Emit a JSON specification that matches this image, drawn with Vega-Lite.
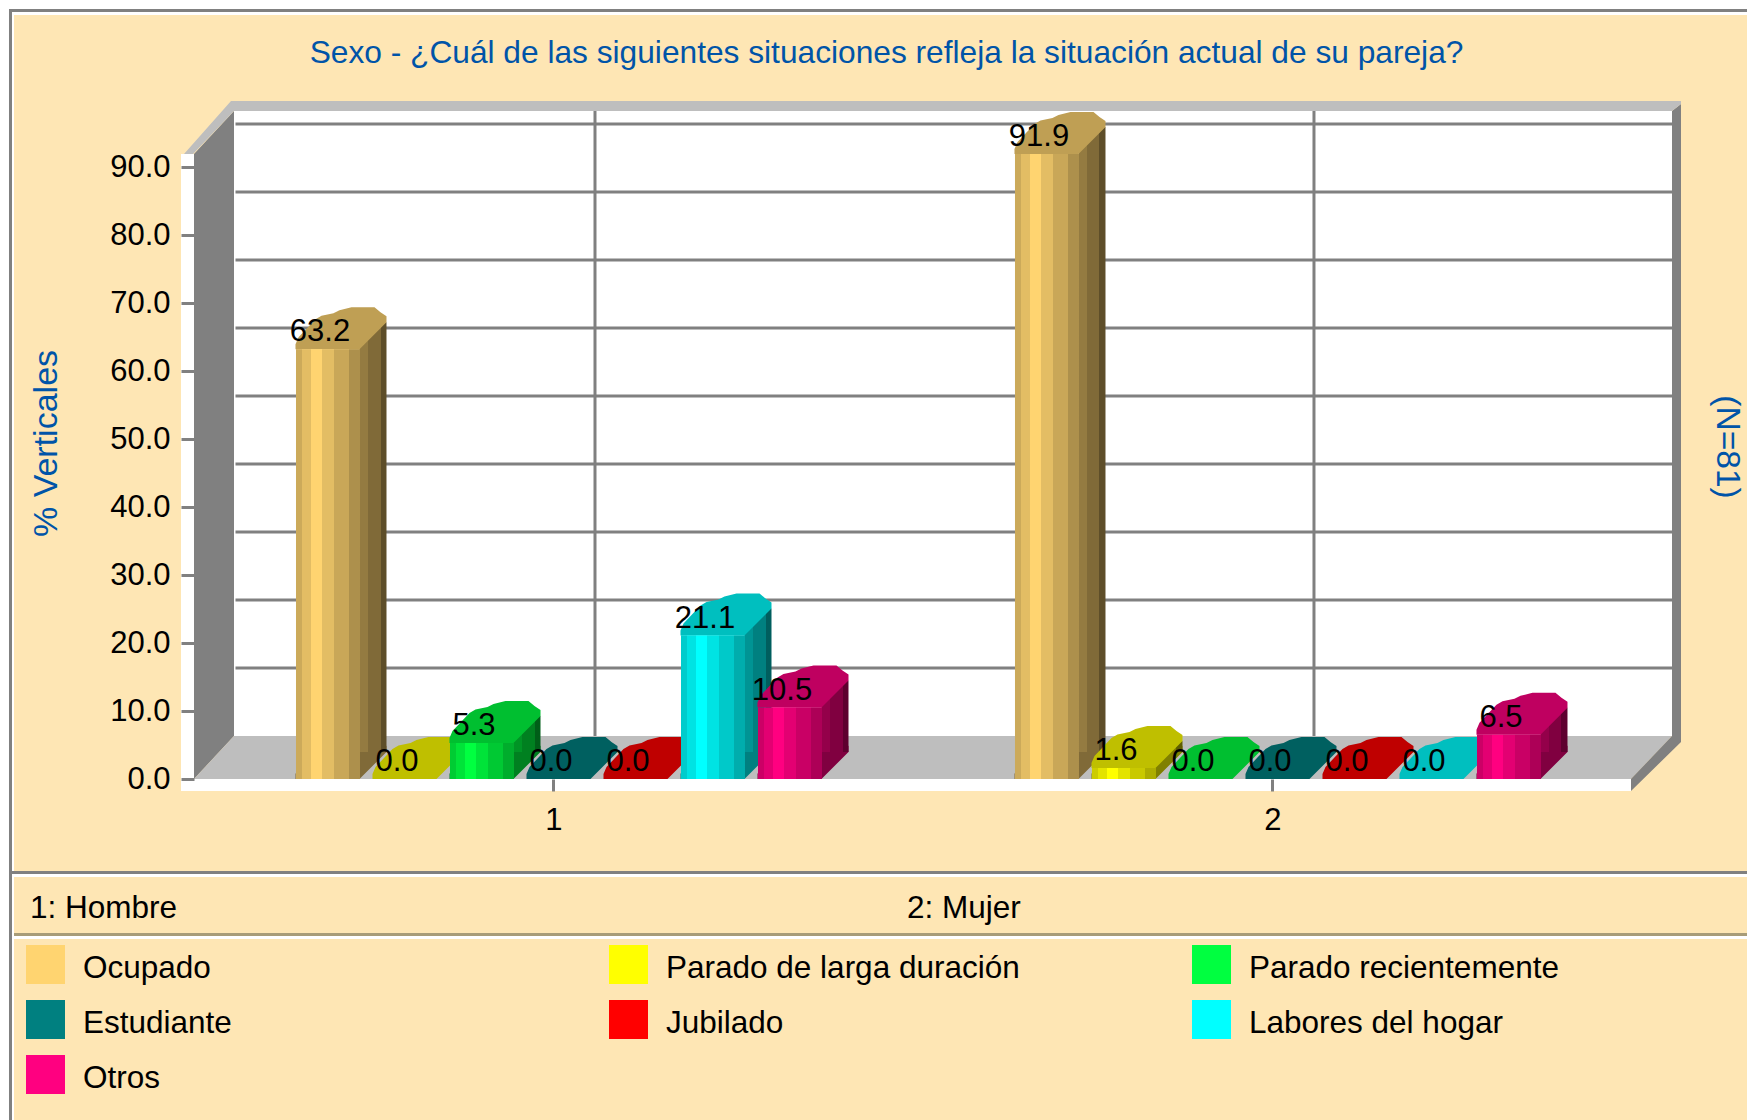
{"$schema":"https://vega.github.io/schema/vega-lite/v6.json","width":1747,"height":1120,"padding":0,"autosize":{"type":"none"},"background":"white","config":{"view":{"stroke":null},"font":"Liberation Sans"},
"title":{"text":"Sexo - ¿Cuál de las siguientes situaciones refleja la situación actual de su pareja?","anchor":"middle","frame":"group","offset":-66,"dx":13,"dy":29,"baseline":"alphabetic","font":"Liberation Sans","fontSize":31.7,"fontWeight":"normal","color":"#0054A8"},
"datasets":{"d":[
{"sexo":"1","serie":"Ocupado","v":63.2},{"sexo":"1","serie":"Parado de larga duración","v":0},{"sexo":"1","serie":"Parado recientemente","v":5.3},{"sexo":"1","serie":"Estudiante","v":0},{"sexo":"1","serie":"Jubilado","v":0},{"sexo":"1","serie":"Labores del hogar","v":21.1},{"sexo":"1","serie":"Otros","v":10.5},
{"sexo":"2","serie":"Ocupado","v":91.9},{"sexo":"2","serie":"Parado de larga duración","v":1.6},{"sexo":"2","serie":"Parado recientemente","v":0},{"sexo":"2","serie":"Estudiante","v":0},{"sexo":"2","serie":"Jubilado","v":0},{"sexo":"2","serie":"Labores del hogar","v":0},{"sexo":"2","serie":"Otros","v":6.5}],
"grid":[{"t":10},{"t":20},{"t":30},{"t":40},{"t":50},{"t":60},{"t":70},{"t":80},{"t":90}],
"g":[{"sexo":"1"},{"sexo":"2"}]},
"resolve":{"scale":{"x":"independent"},"axis":{"x":"independent"}},
"layer":[
{"layer":[
{"data":{"values":[{}]},"mark":{"type":"rect","color":"#808080"},"encoding":{
"x":{"datum":0.242,"type":"quantitative","scale":{"domain":[0.22949,2.65925],"nice":false,"zero":false},"axis":null},
"x2":{"datum":2.65925},
"y":{"datum":113.235,"type":"quantitative","scale":{"domain":[-50.147,114.559],"nice":false,"zero":false},"axis":{"orient":"left","offset":-194,"values":[0,10,20,30,40,50,60,70,80,90],"format":".1f","title":"% Verticales","titleX":-148,"titleY":443,"titleAngle":270,"titleAlign":"center","titleBaseline":"middle","titleFontSize":34,"titleFontWeight":"normal","titleFont":"Liberation Sans","titleColor":"#0054A8","grid":false,"domain":false,"zindex":1,"tickSize":13,"tickWidth":3,"tickColor":"#808080","labelFontSize":31,"labelFont":"Liberation Sans","labelColor":"#000000","labelPadding":11}},
"y2":{"datum":-50.147}}},
{"data":{"values":[{}]},"mark":{"type":"rect","color":"#ffffff"},"encoding":{"x":{"datum":0.24618,"type":"quantitative","axis":null},"x2":{"datum":2.65925},"y":{"datum":112.794,"type":"quantitative"},"y2":{"datum":-50.147}}},
{"data":{"values":[{}]},"mark":{"type":"rect","color":"#FEE6B4"},"encoding":{"x":{"datum":0.24896,"type":"quantitative","axis":null},"x2":{"datum":2.65925},"y":{"datum":112.353,"type":"quantitative"},"y2":{"datum":-50.147}}},
{"data":{"values":[{}]},"mark":{"type":"rect","color":"#ffffff"},"encoding":{"x":{"datum":0.24618,"type":"quantitative","axis":null},"x2":{"datum":2.65925},"y":{"datum":-13.529,"type":"quantitative"},"y2":{"datum":-14.412}}},
{"data":{"values":[{}]},"mark":{"type":"rect","color":"#808080"},"encoding":{"x":{"datum":0.24618,"type":"quantitative","axis":null},"x2":{"datum":2.65925},"y":{"datum":-13.529,"type":"quantitative"},"y2":{"datum":-13.971}}},
{"data":{"values":[{}]},"mark":{"type":"rect","color":"#ffffff"},"encoding":{"x":{"datum":0.24896,"type":"quantitative","axis":null},"x2":{"datum":2.65925},"y":{"datum":-22.647,"type":"quantitative"},"y2":{"datum":-23.529}}},
{"data":{"values":[{}]},"mark":{"type":"rect","color":"#A89C78"},"encoding":{"x":{"datum":0.24896,"type":"quantitative","axis":null},"x2":{"datum":2.65925},"y":{"datum":-22.647,"type":"quantitative"},"y2":{"datum":-23.088}}},
{"data":{"values":[{}]},"mark":{"type":"point","filled":true,"opacity":1,"size":4,"strokeWidth":0,"color":"#ffffff","shape":"M40,-668L1478,-668L1478,-43L40,-43Z"},"encoding":{"x":{"datum":0.49931,"type":"quantitative","axis":null},"y":{"datum":0,"type":"quantitative"}}},
{"data":{"values":[{}]},"mark":{"type":"point","filled":true,"opacity":1,"size":4,"strokeWidth":0,"color":"#ffffff","shape":"M-13,-625L0,-625L0,0L1437,0L1437,12L-13,12Z"},"encoding":{"x":{"datum":0.49931,"type":"quantitative","axis":null},"y":{"datum":0,"type":"quantitative"}}},
{"data":{"values":[{}]},"mark":{"type":"point","filled":true,"opacity":1,"size":4,"strokeWidth":0,"color":"#808080","shape":"M0,0L40,-43L40,-668L0,-625Z"},"encoding":{"x":{"datum":0.49931,"type":"quantitative","axis":null},"y":{"datum":0,"type":"quantitative"}}},
{"data":{"values":[{}]},"mark":{"type":"point","filled":true,"opacity":1,"size":4,"strokeWidth":0,"color":"#BEBEBE","shape":"M0,0L40,-43L1478,-43L1437,0Z"},"encoding":{"x":{"datum":0.49931,"type":"quantitative","axis":null},"y":{"datum":0,"type":"quantitative"}}},
{"data":{"values":[{}]},"mark":{"type":"point","filled":true,"opacity":1,"size":4,"strokeWidth":0,"color":"#808080","shape":"M1478,-668L1487,-675L1487,-37L1437,12L1437,0L1478,-43Z"},"encoding":{"x":{"datum":0.49931,"type":"quantitative","axis":null},"y":{"datum":0,"type":"quantitative"}}},
{"data":{"values":[{}]},"mark":{"type":"point","filled":true,"opacity":1,"size":4,"strokeWidth":0,"color":"#BEBEBE","shape":"M-10,-625L-1,-625L40,-668L1478,-668L1487,-675L1487,-678L37,-678Z"},"encoding":{"x":{"datum":0.49931,"type":"quantitative","axis":null},"y":{"datum":0,"type":"quantitative"}}},
{"data":{"name":"grid"},"mark":{"type":"rule","color":"#808080","strokeWidth":3,"yOffset":-43},"encoding":{"x":{"datum":0.55702,"type":"quantitative","axis":null},"x2":{"datum":2.55494},"y":{"field":"t","type":"quantitative"}}},
{"data":{"values":[{}]},"mark":{"type":"text","font":"Liberation Sans","fontSize":31.5,"color":"#000000","align":"left","baseline":"alphabetic","text":"1: Hombre"},"encoding":{"x":{"datum":0.27121,"type":"quantitative","axis":null},"y":{"datum":-20.44,"type":"quantitative"}}},
{"data":{"values":[{}]},"mark":{"type":"text","font":"Liberation Sans","fontSize":31.5,"color":"#000000","align":"left","baseline":"alphabetic","text":"2: Mujer"},"encoding":{"x":{"datum":1.49096,"type":"quantitative","axis":null},"y":{"datum":-20.44,"type":"quantitative"}}},
{"data":{"values":[{}]},"mark":{"type":"text","font":"Liberation Sans","fontSize":33.5,"color":"#0054A8","align":"center","baseline":"middle","angle":90,"text":"(N=81)"},"encoding":{"x":{"datum":2.63143,"type":"quantitative","axis":null},"y":{"datum":48.82,"type":"quantitative"}}}
]},
{"resolve":{"scale":{"xOffset":"independent"}},"layer":[
{"data":{"name":"g"},"mark":{"type":"rule","color":"#808080","strokeWidth":3,"xOffset":41},"encoding":{"x":{"field":"sexo","type":"nominal","scale":{"type":"band","domain":["1","2"],"paddingInner":0,"paddingOuter":0.2149,"align":0.6294},"axis":{"orient":"bottom","offset":-341,"title":null,"labelAngle":0,"grid":false,"domain":false,"zindex":1,"tickSize":12,"tickWidth":3,"tickColor":"#808080","labelFontSize":31,"labelFont":"Liberation Sans","labelColor":"#000000","labelPadding":14}},"y":{"datum":6.3235,"type":"quantitative"},"y2":{"datum":98.235}}},
{"data":{"name":"d"},"mark":{"type":"bar","width":64},"encoding":{"x":{"field":"sexo","type":"nominal"},"xOffset":{"field":"serie","type":"nominal","scale":{"type":"band","domain":["Ocupado","Parado de larga duración","Parado recientemente","Estudiante","Jubilado","Labores del hogar","Otros"],"paddingInner":0.1688,"paddingOuter":0,"range":[101.5,627.5]}},"y":{"field":"v","type":"quantitative"},
"color":{"field":"serie","type":"nominal","scale":{"domain":["Ocupado","Parado de larga duración","Parado recientemente","Estudiante","Jubilado","Labores del hogar","Otros"],"range":["#FFD470","#FFFF00","#00FF40","#008080","#FF0000","#00FFFF","#FF0080"]},"legend":{"orient":"none","legendX":26,"legendY":945,"title":null,"direction":"horizontal","columns":3,"gridAlign":"all","columnPadding":172,"rowPadding":16,"symbolType":"square","symbolSize":1521,"symbolStrokeWidth":0,"labelOffset":18,"labelFontSize":31.5,"labelFont":"Liberation Sans","labelColor":"#000000","labelLimit":600,"padding":0,"encode":{"labels":{"update":{"dy":{"value":4}}}}}}}},
{"data":{"name":"d"},"transform":[{"filter":"datum.v>0"}],"mark":{"type":"point","filled":true,"opacity":1,"size":4,"strokeWidth":0,"shape":"M-32.5,0L-32.5,-5L-29.5,-12L-12.5,-30L-6.5,-33.5L5.5,-36L11.5,-39L23.5,-42L46.5,-42L52.5,-37L58.5,-33L58.5,-27L31.5,0Z"},"encoding":{"x":{"field":"sexo","type":"nominal"},"xOffset":{"field":"serie","type":"nominal","scale":{"type":"band","domain":["Ocupado","Parado de larga duración","Parado recientemente","Estudiante","Jubilado","Labores del hogar","Otros"],"paddingInner":0.1688,"paddingOuter":0,"range":[101.5,627.5]}},"y":{"datum":0,"type":"quantitative"},
"color":{"condition":[{"test":"datum.serie==='Ocupado'","value":"#806A38"},{"test":"datum.serie==='Parado de larga duración'","value":"#808000"},{"test":"datum.serie==='Parado recientemente'","value":"#008020"},{"test":"datum.serie==='Labores del hogar'","value":"#008080"}],"value":"#800040"}}},
{"data":{"name":"d"},"transform":[{"filter":"datum.v>0"}],"mark":{"type":"bar","width":27,"yOffset":-27,"y2Offset":-27},"encoding":{"x":{"field":"sexo","type":"nominal"},"xOffset":{"field":"serie","type":"nominal","scale":{"type":"band","domain":["Ocupado","Parado de larga duración","Parado recientemente","Estudiante","Jubilado","Labores del hogar","Otros"],"paddingInner":0.1688,"paddingOuter":0,"range":[146.5,672.5]}},"y":{"field":"v","type":"quantitative"},"y2":{"datum":0},
"color":{"condition":[
{"test":"datum.serie==='Ocupado'","value":{"gradient":"linear","x1":0,"x2":1,"y1":0,"y2":0,"stops":[{"offset":0,"color":"#947B41"},{"offset":0.333,"color":"#947B41"},{"offset":0.333,"color":"#806A38"},{"offset":0.778,"color":"#806A38"},{"offset":0.778,"color":"#5E4E29"},{"offset":1,"color":"#5E4E29"}]}},
{"test":"datum.serie==='Parado de larga duración'","value":{"gradient":"linear","x1":0,"x2":1,"y1":0,"y2":0,"stops":[{"offset":0,"color":"#949400"},{"offset":0.333,"color":"#949400"},{"offset":0.333,"color":"#808000"},{"offset":0.778,"color":"#808000"},{"offset":0.778,"color":"#5E5E00"},{"offset":1,"color":"#5E5E00"}]}},
{"test":"datum.serie==='Parado recientemente'","value":{"gradient":"linear","x1":0,"x2":1,"y1":0,"y2":0,"stops":[{"offset":0,"color":"#009425"},{"offset":0.333,"color":"#009425"},{"offset":0.333,"color":"#008020"},{"offset":0.778,"color":"#008020"},{"offset":0.778,"color":"#005E18"},{"offset":1,"color":"#005E18"}]}},
{"test":"datum.serie==='Labores del hogar'","value":{"gradient":"linear","x1":0,"x2":1,"y1":0,"y2":0,"stops":[{"offset":0,"color":"#009494"},{"offset":0.333,"color":"#009494"},{"offset":0.333,"color":"#008080"},{"offset":0.778,"color":"#008080"},{"offset":0.778,"color":"#005E5E"},{"offset":1,"color":"#005E5E"}]}}],
"value":{"gradient":"linear","x1":0,"x2":1,"y1":0,"y2":0,"stops":[{"offset":0,"color":"#94004A"},{"offset":0.333,"color":"#94004A"},{"offset":0.333,"color":"#800040"},{"offset":0.778,"color":"#800040"},{"offset":0.778,"color":"#5E002F"},{"offset":1,"color":"#5E002F"}]}}}},
{"data":{"name":"d"},"mark":{"type":"point","filled":true,"opacity":1,"size":4,"strokeWidth":0,"shape":"M-32.5,0L-32.5,-5L-29.5,-12L-12.5,-30L-6.5,-33.5L5.5,-36L11.5,-39L23.5,-42L46.5,-42L52.5,-37L58.5,-33L58.5,-27L31.5,0Z"},"encoding":{"x":{"field":"sexo","type":"nominal"},"xOffset":{"field":"serie","type":"nominal","scale":{"type":"band","domain":["Ocupado","Parado de larga duración","Parado recientemente","Estudiante","Jubilado","Labores del hogar","Otros"],"paddingInner":0.1688,"paddingOuter":0,"range":[101.5,627.5]}},"y":{"field":"v","type":"quantitative"},
"color":{"condition":[{"test":"datum.serie==='Ocupado'","value":"#BF9F54"},{"test":"datum.serie==='Parado de larga duración'","value":"#BFBF00"},{"test":"datum.serie==='Parado recientemente'","value":"#00BF30"},{"test":"datum.serie==='Estudiante'","value":"#006060"},{"test":"datum.serie==='Jubilado'","value":"#BF0000"},{"test":"datum.serie==='Labores del hogar'","value":"#00BFBF"}],"value":"#BF0060"}}},
{"data":{"name":"d"},"transform":[{"filter":"datum.v>0"}],"mark":{"type":"bar","width":64},"encoding":{"x":{"field":"sexo","type":"nominal"},"xOffset":{"field":"serie","type":"nominal","scale":{"type":"band","domain":["Ocupado","Parado de larga duración","Parado recientemente","Estudiante","Jubilado","Labores del hogar","Otros"],"paddingInner":0.1688,"paddingOuter":0,"range":[101.5,627.5]}},"y":{"field":"v","type":"quantitative"},
"fill":{"condition":[
{"test":"datum.serie==='Ocupado'","value":{"gradient":"linear","x1":0,"x2":1,"y1":0,"y2":0,"stops":[{"offset":0,"color":"#CCAA5A"},{"offset":0.094,"color":"#CCAA5A"},{"offset":0.094,"color":"#E3BD64"},{"offset":0.234,"color":"#E3BD64"},{"offset":0.234,"color":"#FFD470"},{"offset":0.406,"color":"#FFD470"},{"offset":0.406,"color":"#E3BD64"},{"offset":0.594,"color":"#E3BD64"},{"offset":0.594,"color":"#C9A758"},{"offset":0.828,"color":"#C9A758"},{"offset":0.828,"color":"#AD904C"},{"offset":1,"color":"#AD904C"}]}},
{"test":"datum.serie==='Parado de larga duración'","value":{"gradient":"linear","x1":0,"x2":1,"y1":0,"y2":0,"stops":[{"offset":0,"color":"#CCCC00"},{"offset":0.094,"color":"#CCCC00"},{"offset":0.094,"color":"#E3E300"},{"offset":0.234,"color":"#E3E300"},{"offset":0.234,"color":"#FFFF00"},{"offset":0.406,"color":"#FFFF00"},{"offset":0.406,"color":"#E3E300"},{"offset":0.594,"color":"#E3E300"},{"offset":0.594,"color":"#C9C900"},{"offset":0.828,"color":"#C9C900"},{"offset":0.828,"color":"#ADAD00"},{"offset":1,"color":"#ADAD00"}]}},
{"test":"datum.serie==='Parado recientemente'","value":{"gradient":"linear","x1":0,"x2":1,"y1":0,"y2":0,"stops":[{"offset":0,"color":"#00CC33"},{"offset":0.094,"color":"#00CC33"},{"offset":0.094,"color":"#00E339"},{"offset":0.234,"color":"#00E339"},{"offset":0.234,"color":"#00FF40"},{"offset":0.406,"color":"#00FF40"},{"offset":0.406,"color":"#00E339"},{"offset":0.594,"color":"#00E339"},{"offset":0.594,"color":"#00C933"},{"offset":0.828,"color":"#00C933"},{"offset":0.828,"color":"#00AD2C"},{"offset":1,"color":"#00AD2C"}]}},
{"test":"datum.serie==='Labores del hogar'","value":{"gradient":"linear","x1":0,"x2":1,"y1":0,"y2":0,"stops":[{"offset":0,"color":"#00CCCC"},{"offset":0.094,"color":"#00CCCC"},{"offset":0.094,"color":"#00E3E3"},{"offset":0.234,"color":"#00E3E3"},{"offset":0.234,"color":"#00FFFF"},{"offset":0.406,"color":"#00FFFF"},{"offset":0.406,"color":"#00E3E3"},{"offset":0.594,"color":"#00E3E3"},{"offset":0.594,"color":"#00C9C9"},{"offset":0.828,"color":"#00C9C9"},{"offset":0.828,"color":"#00ADAD"},{"offset":1,"color":"#00ADAD"}]}}],
"value":{"gradient":"linear","x1":0,"x2":1,"y1":0,"y2":0,"stops":[{"offset":0,"color":"#CC0066"},{"offset":0.094,"color":"#CC0066"},{"offset":0.094,"color":"#E30072"},{"offset":0.234,"color":"#E30072"},{"offset":0.234,"color":"#FF0080"},{"offset":0.406,"color":"#FF0080"},{"offset":0.406,"color":"#E30072"},{"offset":0.594,"color":"#E30072"},{"offset":0.594,"color":"#C90065"},{"offset":0.828,"color":"#C90065"},{"offset":0.828,"color":"#AD0057"},{"offset":1,"color":"#AD0057"}]}}}},
{"data":{"name":"d"},"mark":{"type":"text","font":"Liberation Sans","fontSize":31,"color":"#000000","align":"center","baseline":"alphabetic","dx":-8,"dy":-8},"encoding":{"x":{"field":"sexo","type":"nominal"},"xOffset":{"field":"serie","type":"nominal","scale":{"type":"band","domain":["Ocupado","Parado de larga duración","Parado recientemente","Estudiante","Jubilado","Labores del hogar","Otros"],"paddingInner":0.1688,"paddingOuter":0,"range":[101.5,627.5]}},"y":{"field":"v","type":"quantitative"},"text":{"field":"v","type":"quantitative","format":".1f"}}}
]}
]}
